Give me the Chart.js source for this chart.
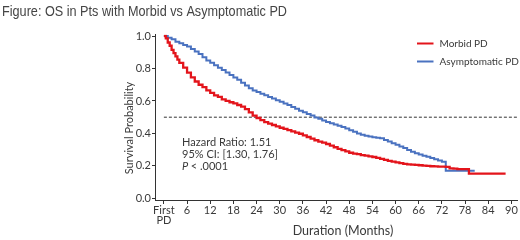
<!DOCTYPE html>
<html>
<head>
<meta charset="utf-8">
<script src="https://cdn.jsdelivr.net/npm/chart.js@4"></script>
<style>
  body { margin: 0; background: #fff; }
  #wrap { width: 520px; height: 240px; position: relative; }
</style>
</head>
<body>
<div id="wrap"><canvas id="myChart" width="520" height="240"></canvas></div>
<script>
// Kaplan-Meier curves (months, survival probability)
const morbidMonths = [0, 0.5, 1, 1.5, 2, 2.5, 3, 3.5, 4, 5, 6, 7, 8, 9, 10, 11, 12, 13, 14, 15, 16, 17, 18, 19, 20, 21, 22, 23, 24, 25, 26, 27, 28, 29, 30, 31, 32, 33, 34, 35, 36, 37, 38, 39, 40, 41, 42, 43, 44, 45, 46, 47, 48, 49, 50, 51, 52, 53, 54, 55, 56, 57, 58, 59, 60, 61, 62, 63, 64, 65, 66, 67, 68, 69, 70, 71, 72, 73, 74, 75, 76, 78, 79, 88.5]
const morbidSurv = [1.0, 0.985, 0.96, 0.94, 0.915, 0.895, 0.875, 0.855, 0.835, 0.805, 0.775, 0.745, 0.72, 0.70, 0.685, 0.665, 0.65, 0.635, 0.625, 0.61, 0.60, 0.592, 0.585, 0.575, 0.565, 0.55, 0.53, 0.51, 0.495, 0.482, 0.47, 0.46, 0.452, 0.443, 0.435, 0.428, 0.42, 0.413, 0.405, 0.398, 0.388, 0.378, 0.368, 0.358, 0.35, 0.343, 0.335, 0.325, 0.315, 0.305, 0.297, 0.289, 0.281, 0.276, 0.272, 0.267, 0.263, 0.259, 0.255, 0.249, 0.243, 0.237, 0.231, 0.226, 0.222, 0.217, 0.213, 0.21, 0.208, 0.206, 0.204, 0.202, 0.2, 0.198, 0.197, 0.196, 0.196, 0.194, 0.185, 0.183, 0.18, 0.18, 0.153, 0.153]

const asympMonths = [0, 1, 2, 3, 4, 5, 6, 7, 8, 9, 10, 11, 12, 13, 14, 15, 16, 17, 18, 19, 20, 21, 22, 23, 24, 25, 26, 27, 28, 29, 30, 31, 32, 33, 34, 35, 36, 37, 38, 39, 40, 41, 42, 43, 44, 45, 46, 47, 48, 49, 50, 51, 52, 53, 54, 55, 56, 57, 58, 59, 60, 61, 62, 63, 64, 65, 66, 67, 68, 69, 70, 71, 72, 73, 80.5]
const asympSurv = [1.0, 0.99, 0.98, 0.965, 0.955, 0.945, 0.935, 0.92, 0.905, 0.89, 0.87, 0.85, 0.835, 0.82, 0.805, 0.79, 0.775, 0.76, 0.745, 0.73, 0.712, 0.695, 0.678, 0.665, 0.655, 0.645, 0.635, 0.625, 0.615, 0.605, 0.595, 0.585, 0.575, 0.563, 0.552, 0.54, 0.53, 0.52, 0.51, 0.498, 0.49, 0.48, 0.47, 0.462, 0.455, 0.447, 0.439, 0.43, 0.42, 0.41, 0.4, 0.392, 0.386, 0.381, 0.377, 0.374, 0.37, 0.36, 0.35, 0.34, 0.33, 0.32, 0.31, 0.298, 0.287, 0.278, 0.27, 0.263, 0.256, 0.249, 0.241, 0.233, 0.226, 0.17, 0.17]

const medianMonths = [0, 91.5]
const medianSurv = [0.5, 0.5]

const xTicks = [0, 6, 12, 18, 24, 30, 36, 42, 48, 54, 60, 66, 72, 78, 84, 90]
const yTicks = [0, 0.2, 0.4, 0.6, 0.8, 1.0]

const seriesNames = ['Morbid PD', 'Asymptomatic PD']
const statLines = ['Hazard Ratio: 1.51', '95% CI: [1.30, 1.76]', '< .0001']
const figTitle = 'Figure: OS in Pts with Morbid vs Asymptomatic PD'
const xTitle = 'Duration (Months)'
const yTitle = 'Survival Probability'

const RED = '#e3141b'
const BLUE = '#4a72c0'
const TXT = '#3a3a3a'
const FONT = 'Lato, "Noto Sans", sans-serif'

function pts(xs, ys){
    return xs.map((x, i) => ({x: x, y: ys[i]}))
}

// title, axis titles, legend and stats text
const extras = {
    id: 'extras',
    afterDraw(chart){
        const ctx = chart.ctx
        ctx.save()
        ctx.fillStyle = '#444'
        ctx.font = '15px "Liberation Sans", Arial, sans-serif'
        ctx.textBaseline = 'alphabetic'
        ctx.textAlign = 'left'
        // squeeze the title to the reference width
        const tw = ctx.measureText(figTitle).width
        ctx.save()
        ctx.translate(2, 16)
        ctx.scale(285 / tw, 1)
        ctx.fillText(figTitle, 0, 0)
        ctx.restore()

        // axis titles
        ctx.fillStyle = TXT
        ctx.textBaseline = 'middle'
        ctx.textAlign = 'center'
        ctx.font = '12.5px ' + FONT
        ctx.fillText(xTitle, 343, 231)
        ctx.save()
        ctx.translate(129.5, 128)
        ctx.rotate(-Math.PI / 2)
        ctx.font = '11px ' + FONT
        ctx.fillText(yTitle, 0, 0)
        ctx.restore()

        // legend
        ctx.textAlign = 'left'
        const colors = [RED, BLUE]
        ctx.font = '10px ' + FONT
        seriesNames.forEach((name, i) => {
            const y = 43.5 + i * 18
            ctx.strokeStyle = colors[i]
            ctx.lineWidth = 2
            ctx.beginPath()
            ctx.moveTo(417, y)
            ctx.lineTo(433.5, y)
            ctx.stroke()
            ctx.fillStyle = TXT
            ctx.fillText(name, 439.5, y)
        })

        // stats
        ctx.font = '11px ' + FONT
        ctx.fillStyle = TXT
        ctx.fillText(statLines[0], 182, 142.5)
        ctx.fillText(statLines[1], 182, 154.5)
        ctx.font = 'italic 11px ' + FONT
        ctx.fillText('P', 182, 166.5)
        const w = ctx.measureText('P ').width
        ctx.font = '11px ' + FONT
        ctx.fillText(statLines[2], 182 + w, 166.5)
        ctx.restore()
    }
}

const ctx = document.getElementById('myChart').getContext('2d')
const myChart = new Chart(ctx, {
    type: 'line',
    data: {
        datasets: [{
            label: seriesNames[0],
            data: pts(morbidMonths, morbidSurv),
            borderColor: RED,
            borderWidth: 2.3,
            stepped: true,
            pointRadius: 0
        }, {
            label: seriesNames[1],
            data: pts(asympMonths, asympSurv),
            borderColor: BLUE,
            borderWidth: 2,
            stepped: true,
            pointRadius: 0
        }, {
            label: 'median',
            data: pts(medianMonths, medianSurv),
            borderColor: '#333',
            borderWidth: 1,
            borderDash: [3, 2],
            pointRadius: 0
        }]
    },
    options: {
        responsive: false,
        animation: false,
        layout: { padding: { left: 120, right: 3, top: 34.4, bottom: 0 } },
        plugins: {
            legend: { display: false },
            tooltip: { enabled: false }
        },
        scales: {
            x: {
                type: 'linear',
                min: -2.3,
                max: 91.45,
                afterBuildTicks: s => { s.ticks = xTicks.map(v => ({value: v})) },
                afterFit: s => { s.height = 40 },
                ticks: {
                    color: TXT,
                    font: { family: FONT, size: 11, lineHeight: 0.9 },
                    padding: 2,
                    maxRotation: 0,
                    autoSkip: false,
                    callback: v => v === 0 ? ['First', 'PD'] : v
                },
                grid: { drawOnChartArea: false, drawTicks: true, tickLength: 4, color: '#333' },
                border: { color: '#333', width: 1 }
            },
            y: {
                min: -0.01,
                max: 1.01,
                afterBuildTicks: s => { s.ticks = yTicks.map(v => ({value: v})) },
                afterFit: s => { s.width = 35 },
                ticks: {
                    color: TXT,
                    font: { family: FONT, size: 11 },
                    padding: 1,
                    callback: v => v.toFixed(1)
                },
                grid: { drawOnChartArea: false, drawTicks: true, tickLength: 3, color: '#333' },
                border: { color: '#333', width: 1 }
            }
        }
    },
    plugins: [extras]
})
</script>
</body>
</html>
